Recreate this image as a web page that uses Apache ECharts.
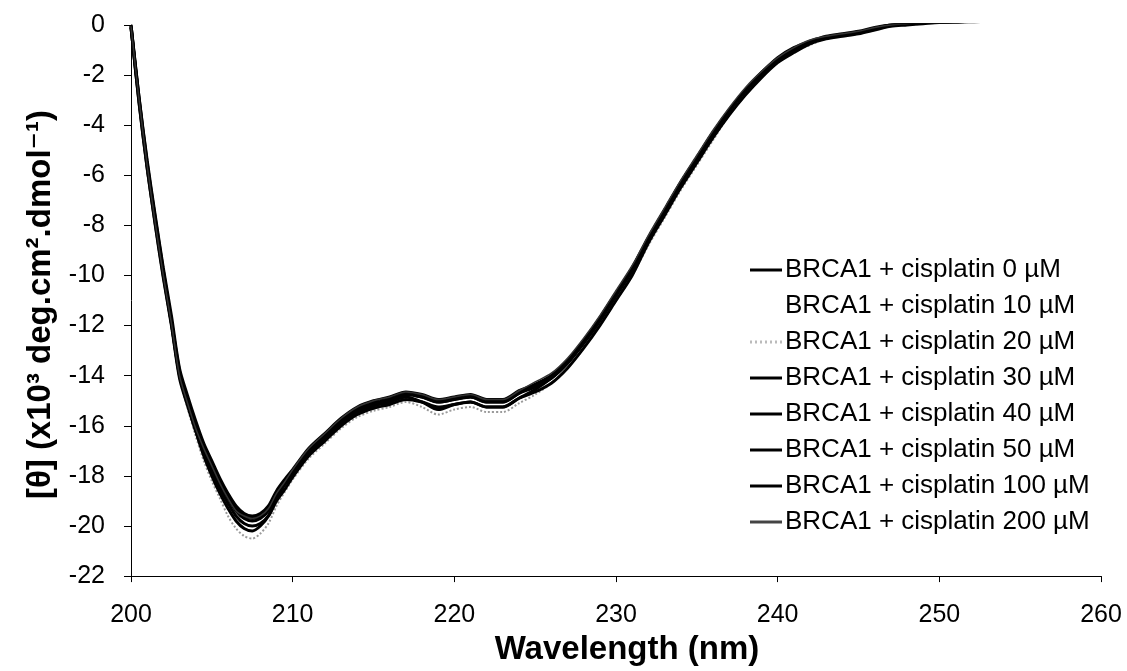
<!DOCTYPE html>
<html>
<head>
<meta charset="utf-8">
<script src="https://cdn.jsdelivr.net/npm/echarts@6/dist/echarts.min.js"></script>
<style>
html,body{margin:0;padding:0;background:#fff;}
#chart{width:1127px;height:671px;}
</style>
</head>
<body>
<div id="chart"></div>
<script>
// Wavelengths (nm)
const wavelengths = [
  200,200.5,201,201.5,202,202.5,203,203.5,204,204.5,
  205,205.5,206,206.5,207,207.5,208,208.5,209,209.5,
  210,211,212,213,214,215,216,217,218,219,
  220,221,222,223,224,225,226,227,228,229,
  230,231,232,233,234,235,236,237,238,239,
  240,241,242,243,244,245,246,247,248,249,
  250,251,252,253,254,255,256,257
];

const seriesNames = [
  "BRCA1 + cisplatin 0 µM",
  "BRCA1 + cisplatin 10 µM",
  "BRCA1 + cisplatin 20 µM",
  "BRCA1 + cisplatin 30 µM",
  "BRCA1 + cisplatin 40 µM",
  "BRCA1 + cisplatin 50 µM",
  "BRCA1 + cisplatin 100 µM",
  "BRCA1 + cisplatin 200 µM"
];

const cis0 = [
  -0.05,-3.1,-5.7,-7.9,-10.0,-11.9,-13.9,-15.0,-16.0,-16.8,
  -17.5,-18.2,-18.8,-19.3,-19.6,-19.7,-19.6,-19.3,-18.7,-18.25,
  -17.85,-17.0,-16.4,-15.8,-15.35,-15.1,-14.95,-14.75,-14.85,-15.05,
  -14.95,-14.85,-15.05,-15.05,-14.7,-14.45,-14.1,-13.5,-12.7,-11.8,
  -10.8,-9.8,-8.6,-7.5,-6.4,-5.4,-4.4,-3.5,-2.7,-2.0,
  -1.4,-1.0,-0.7,-0.5,-0.4,-0.3,-0.15,0.0,0.05,0.1,
  0.1,0.12,0.15,0.15,0.2,null,null,null
];
const cis10 = [
  -0.1,-3.0,-5.5,-7.8,-9.8,-11.7,-13.8,-15.0,-16.1,-17.0,
  -17.7,-18.4,-19.0,-19.5,-19.8,-19.9,-19.8,-19.5,-18.9,-18.45,
  -18.05,-17.2,-16.6,-16.0,-15.55,-15.3,-15.15,-14.95,-15.05,-15.25,
  -15.15,-15.05,-15.25,-15.25,-14.9,-14.65,-14.3,-13.7,-12.9,-12.0,
  -11.0,-10.0,-8.7,-7.6,-6.5,-5.5,-4.5,-3.6,-2.8,-2.1,
  -1.5,-1.1,-0.75,-0.55,-0.45,-0.35,-0.2,-0.05,0.0,0.05,
  0.1,0.1,0.12,0.15,0.15,0.2,null,null
];
const cis20 = [
  -0.1,-3.2,-5.8,-8.0,-10.1,-12.0,-14.1,-15.3,-16.4,-17.4,
  -18.2,-18.9,-19.6,-20.1,-20.4,-20.5,-20.3,-19.9,-19.2,-18.65,
  -18.15,-17.3,-16.7,-16.1,-15.65,-15.4,-15.25,-15.05,-15.25,-15.55,
  -15.35,-15.25,-15.45,-15.45,-15.1,-14.75,-14.3,-13.7,-12.9,-12.0,
  -11.0,-10.0,-8.8,-7.7,-6.6,-5.6,-4.6,-3.6,-2.8,-2.1,
  -1.5,-1.1,-0.8,-0.55,-0.45,-0.35,-0.2,-0.05,0.0,0.05,
  0.1,0.1,0.12,0.15,0.15,0.2,null,null
];
const cis30 = [
  0.0,-2.9,-5.5,-7.7,-9.8,-11.8,-13.8,-15.1,-16.2,-17.2,
  -18.0,-18.7,-19.3,-19.8,-20.1,-20.2,-20.0,-19.6,-18.9,-18.35,
  -17.85,-17.0,-16.4,-15.8,-15.45,-15.2,-15.05,-14.85,-15.05,-15.35,
  -15.15,-15.05,-15.25,-15.25,-14.9,-14.55,-14.1,-13.5,-12.7,-11.8,
  -10.8,-9.8,-8.6,-7.4,-6.3,-5.3,-4.3,-3.4,-2.6,-1.9,
  -1.35,-0.95,-0.7,-0.5,-0.4,-0.3,-0.15,0.0,0.05,0.1,
  0.12,0.15,0.15,0.2,0.2,null,null,null
];
const cis40 = [
  -0.1,-3.0,-5.6,-7.8,-9.9,-11.9,-14.0,-15.1,-16.1,-16.9,
  -17.6,-18.3,-18.9,-19.4,-19.7,-19.8,-19.7,-19.4,-18.8,-18.35,
  -17.95,-17.1,-16.5,-15.9,-15.45,-15.2,-15.05,-14.75,-14.85,-15.05,
  -14.95,-14.85,-15.05,-15.05,-14.7,-14.35,-14.0,-13.4,-12.6,-11.7,
  -10.7,-9.7,-8.5,-7.4,-6.3,-5.3,-4.3,-3.4,-2.6,-1.9,
  -1.3,-0.9,-0.65,-0.45,-0.35,-0.25,-0.1,0.0,0.05,0.1,
  0.1,0.12,0.15,0.15,0.2,null,null,null
];
const cis50 = [
  0.0,-2.9,-5.4,-7.6,-9.7,-11.6,-13.7,-14.8,-15.8,-16.7,
  -17.4,-18.1,-18.7,-19.2,-19.5,-19.6,-19.5,-19.2,-18.6,-18.15,
  -17.75,-16.9,-16.3,-15.7,-15.25,-15.0,-14.85,-14.65,-14.75,-14.95,
  -14.85,-14.75,-14.95,-14.95,-14.6,-14.35,-14.0,-13.4,-12.6,-11.7,
  -10.7,-9.7,-8.5,-7.4,-6.3,-5.3,-4.3,-3.4,-2.6,-1.95,
  -1.4,-1.0,-0.7,-0.5,-0.4,-0.3,-0.15,0.0,0.05,0.1,
  0.1,0.12,0.15,0.15,0.2,null,null,null
];
const cis100 = [
  -0.1,-3.1,-5.7,-8.0,-10.1,-12.0,-14.1,-15.2,-16.2,-17.1,
  -17.8,-18.5,-19.1,-19.6,-19.9,-20.0,-19.9,-19.6,-19.0,-18.55,
  -18.05,-17.2,-16.6,-16.0,-15.55,-15.3,-15.15,-14.95,-15.05,-15.25,
  -15.15,-15.05,-15.25,-15.25,-14.9,-14.65,-14.3,-13.7,-12.9,-12.0,
  -11.0,-10.0,-8.7,-7.6,-6.5,-5.5,-4.5,-3.6,-2.8,-2.1,
  -1.5,-1.1,-0.75,-0.55,-0.45,-0.35,-0.2,-0.05,0.0,0.05,
  0.1,0.1,0.12,0.15,0.15,0.2,null,null
];
const cis200 = [
  -0.05,-3.0,-5.6,-7.9,-10.0,-11.9,-14.0,-15.1,-16.1,-16.9,
  -17.6,-18.3,-18.9,-19.4,-19.6,-19.7,-19.6,-19.3,-18.7,-18.25,
  -17.75,-16.9,-16.3,-15.7,-15.25,-15.0,-14.85,-14.65,-14.75,-14.95,
  -14.85,-14.75,-14.95,-14.95,-14.6,-14.25,-13.9,-13.3,-12.5,-11.6,
  -10.6,-9.6,-8.4,-7.3,-6.2,-5.2,-4.2,-3.3,-2.5,-1.85,
  -1.3,-0.9,-0.6,-0.45,-0.35,-0.25,-0.1,0.0,0.05,0.1,
  0.1,0.12,0.15,0.15,0.18,0.2,0.2,0.2
];

const xTicks = [200,210,220,230,240,250,260];
const yTicks = [-22,-20,-18,-16,-14,-12,-10,-8,-6,-4,-2,0];

const allValues = [cis0, cis10, cis20, cis30, cis40, cis50, cis100, cis200];

const styles = [
  {color:'#000', width:3.2, type:'solid'},
  {color:'#fff', width:1.5, type:'solid'},
  {color:'#9a9a9a', width:2, type:'dotted'},
  {color:'#000', width:3, type:'solid'},
  {color:'#000', width:3, type:'solid'},
  {color:'#000', width:3, type:'solid'},
  {color:'#000', width:3, type:'solid'},
  {color:'#333', width:1.5, type:'solid'}
];

const FONT = '"Liberation Sans", Arial, "DejaVu Sans", sans-serif';

const series = allValues.map((vals, i) => ({
  name: seriesNames[i],
  type: 'line',
  data: wavelengths.map((w, j) => [w, vals[j]]),
  showSymbol: false,
  symbol: 'none',
  smooth: 0.3,
  connectNulls: false,
  lineStyle: {color: styles[i].color, width: styles[i].width, type: styles[i].type},
  itemStyle: {color: styles[i].color},
  emphasis: {disabled: true},
  z: i === 1 ? 1 : 2
}));

const legendIcons = [
  {icon:'rect', itemStyle:{color:'#000'}},
  {icon:'rect', itemStyle:{color:'#fff'}},
  {icon:'path://M0,0h2v3h-2z M5,0h2v3h-2z M10,0h2v3h-2z M15,0h2v3h-2z M20,0h2v3h-2z M25,0h2v3h-2z M30,0h2v3h-2z', itemStyle:{color:'#bbb'}},
  {icon:'rect', itemStyle:{color:'#000'}},
  {icon:'rect', itemStyle:{color:'#000'}},
  {icon:'rect', itemStyle:{color:'#000'}},
  {icon:'rect', itemStyle:{color:'#000'}},
  {icon:'rect', itemStyle:{color:'#444'}}
];

const chart = echarts.init(document.getElementById('chart'), null, {renderer:'canvas'});
chart.setOption({
  backgroundColor: '#fff',
  animation: false,
  textStyle: {fontFamily: FONT},
  grid: {left: 131, right: 26, top: 25, bottom: 88, containLabel: false},
  legend: {
    orient: 'vertical',
    left: 745,
    top: 252,
    itemWidth: 32,
    itemHeight: 3,
    itemGap: 10,
    selectedMode: false,
    textStyle: {fontFamily: FONT, fontSize: 26, color: '#000', lineHeight: 26, padding: [0,0,0,-2]},
    data: seriesNames.map((n, i) => Object.assign({name: n}, legendIcons[i]))
  },
  xAxis: {
    type: 'value',
    min: 200, max: 260, interval: 10,
    name: 'Wavelength (nm)',
    nameLocation: 'middle',
    nameGap: 52,
    nameTextStyle: {fontFamily: FONT, fontSize: 33, fontWeight: 'bold', color: '#000', padding: [0,0,0,22]},
    axisLine: {show: true, onZero: false, lineStyle: {color: '#000', width: 1}},
    axisTick: {show: true, length: 6, lineStyle: {color: '#000', width: 1}},
    axisLabel: {fontFamily: FONT, fontSize: 25, color: '#000', margin: 27,
      formatter: v => xTicks.indexOf(v) >= 0 ? String(v) : ''},
    splitLine: {show: false}
  },
  yAxis: {
    type: 'value',
    min: -22, max: 0, interval: 2,
    name: '[θ] (x10³ deg.cm².dmol⁻¹)',
    nameLocation: 'middle',
    nameRotate: 90,
    nameGap: 74,
    nameTextStyle: {fontFamily: FONT, fontSize: 33, fontWeight: 'bold', color: '#000', padding: [0,8,0,0]},
    axisLine: {show: true, onZero: false, lineStyle: {color: '#000', width: 1}},
    axisTick: {show: true, length: 7, lineStyle: {color: '#000', width: 1}},
    axisLabel: {fontFamily: FONT, fontSize: 25, color: '#000', margin: 26,
      formatter: v => yTicks.indexOf(v) >= 0 ? String(v) : ''},
    splitLine: {show: false}
  },
  series: series
});
</script>
</body>
</html>
